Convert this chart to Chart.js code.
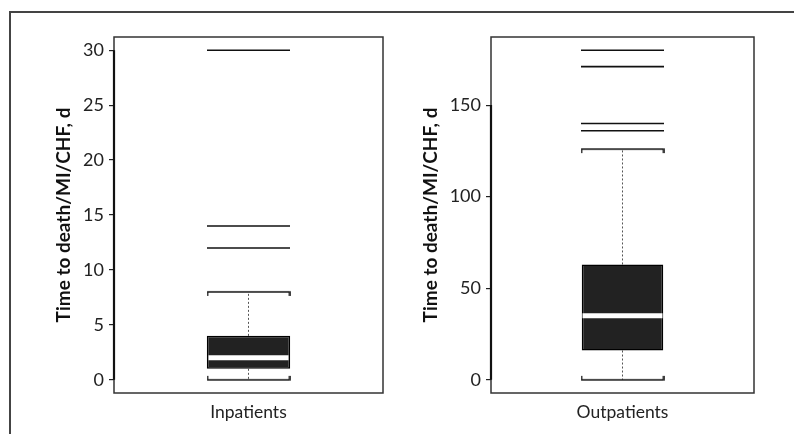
<!DOCTYPE html>
<html>
<head>
<meta charset="utf-8">
<script src="https://cdn.jsdelivr.net/npm/chart.js@4"></script>
<style>
html, body { margin: 0; padding: 0; background: #fff; }
#wrap { position: relative; width: 794px; height: 434px; overflow: hidden; }
#frame { position: absolute; left: 9px; top: 11px; width: 800px; height: 440px; border-top: 2px solid #444; border-left: 2px solid #444; }
canvas { position: absolute; top: 0; }
</style>
</head>
<body>
<div id="wrap">
  <div id="frame"></div>
  <canvas id="inChart" width="397" height="434" style="left:0"></canvas>
  <canvas id="outChart" width="397" height="434" style="left:397px"></canvas>
</div>
<script>
// --- data ---
const yTitle = 'Time to death/MI/CHF, d';

const inLabels = ['Inpatients'];
const inBox = [1, 4];          // q1, q3
const inMedian = [2];
const inWhiskers = [0, 8];     // low, high
const inOutliers = [12, 14, 30];
const inTicks = [0, 5, 10, 15, 20, 25, 30];

const outLabels = ['Outpatients'];
const outBox = [16, 63];
const outMedian = [35];
const outWhiskers = [0, 126];
const outOutliers = [136, 140, 171, 180];
const outTicks = [0, 50, 100, 150];

const FONT = 'Lato, "Open Sans", sans-serif';

// whisker cap: horizontal bar with little end serifs
function makeCap(dir) {
    const c = document.createElement('canvas');
    c.width = 84; c.height = 10;
    const g = c.getContext('2d');
    g.strokeStyle = '#111';
    g.lineWidth = 1.6;
    g.beginPath();
    g.moveTo(1, 5 + dir * 4); g.lineTo(1, 5); g.lineTo(83, 5); g.lineTo(83, 5 + dir * 4);
    g.stroke();
    return c;
}

// plot frame + thick axis line (0 .. last tick)
const framePlugin = {
    id: 'frame',
    afterDraw(chart, args, opts) {
        const { ctx, chartArea: a, scales } = chart;
        ctx.save();
        ctx.strokeStyle = '#333';
        ctx.lineWidth = 1.5;
        ctx.strokeRect(a.left, a.top, a.right - a.left, a.bottom - a.top);
        const y = scales.y;
        ctx.lineWidth = 2.2;
        ctx.strokeStyle = '#111';
        ctx.beginPath();
        ctx.moveTo(a.left, y.getPixelForValue(opts.ticks[0]));
        ctx.lineTo(a.left, y.getPixelForValue(opts.ticks[opts.ticks.length - 1]));
        ctx.stroke();
        ctx.restore();
    }
};

function boxPanel(id, p) {
    const lab = p.labels[0];
    const pt = v => ({ x: lab, y: v });
    const span = p.ticksMax - p.ticksMin;
    new Chart(document.getElementById(id), {
        type: 'bar',
        data: {
            labels: p.labels,
            datasets: [
                { type: 'line', data: [pt(p.box[1]), pt(p.whiskers[1])], borderColor: '#555', borderWidth: 1, borderDash: [2, 2], pointRadius: 0, order: 6 },
                { type: 'line', data: [pt(p.box[0]), pt(p.whiskers[0])], borderColor: '#555', borderWidth: 1, borderDash: [2, 2], pointRadius: 0, order: 6 },
                { type: 'bar', data: [p.box], backgroundColor: '#222', borderColor: '#000', borderWidth: 1.5, borderSkipped: false, barPercentage: 0.31, categoryPercentage: 1, order: 5 },
                { type: 'line', data: p.median.map(pt), showLine: false, pointStyle: 'line', pointRadius: 40, pointBorderWidth: 5, pointBorderColor: '#fff', order: 1 },
                { type: 'line', data: [pt(p.whiskers[1])], showLine: false, pointStyle: makeCap(1), order: 2 },
                { type: 'line', data: [pt(p.whiskers[0])], showLine: false, pointStyle: makeCap(-1), order: 2 },
                { type: 'line', data: p.outliers.map(pt), showLine: false, pointStyle: 'line', pointRadius: 41.5, pointBorderWidth: 1.6, pointBorderColor: '#111', order: 2 }
            ]
        },
        options: {
            responsive: false,
            animation: false,
            layout: { autoPadding: false, padding: { left: 0, top: 37, right: p.padRight, bottom: 0 } },
            plugins: { legend: { display: false }, tooltip: { enabled: false }, frame: { ticks: p.ticks } },
            scales: {
                x: {
                    grid: { display: false, drawTicks: false },
                    border: { display: false },
                    ticks: { color: '#222', padding: 9, font: { family: FONT, size: 17.5 } },
                    afterFit: s => { s.height = 41; s.paddingLeft = 0; s.paddingRight = 0; }
                },
                y: {
                    min: p.ticksMin - 0.04 * span,
                    max: p.ticksMax + 0.04 * span,
                    afterBuildTicks: s => { s.ticks = p.ticks.map(v => ({ value: v })); },
                    afterFit: s => { s.width = p.axisWidth; s.paddingTop = 0; s.paddingBottom = 0; },
                    grid: { drawOnChartArea: false, drawTicks: true, tickLength: 5, color: '#222', lineWidth: 1.2 },
                    border: { display: false },
                    ticks: { color: '#222', padding: 5, font: { family: FONT, size: 18 } },
                    title: {
                        display: true,
                        text: yTitle,
                        color: '#111',
                        padding: { top: p.titlePad, bottom: 0 },
                        font: { family: FONT, size: 19, weight: 'bold' }
                    }
                }
            }
        },
        plugins: [framePlugin]
    });
}

boxPanel('inChart', {
    labels: inLabels, box: inBox, median: inMedian, whiskers: inWhiskers, outliers: inOutliers,
    ticks: inTicks, ticksMin: 0, ticksMax: 30, axisWidth: 114, padRight: 14, titlePad: 52
});
boxPanel('outChart', {
    labels: outLabels, box: outBox, median: outMedian, whiskers: outWhiskers, outliers: outOutliers,
    ticks: outTicks, ticksMin: 0, ticksMax: 180, axisWidth: 94, padRight: 40, titlePad: 22
});
</script>
</body>
</html>
